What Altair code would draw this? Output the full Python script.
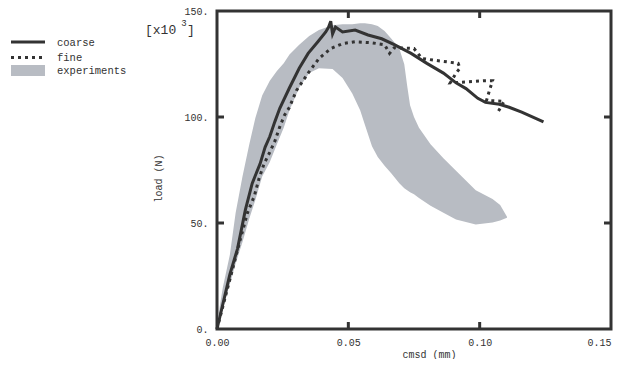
import altair as alt
import pandas as pd

# ---------------- data (x: cmsd in mm, y: load in 10^3 N) ----------------
coarse_x = [0, 0.0049, 0.0078, 0.0108, 0.0134, 0.0146, 0.0164, 0.0183, 0.0201, 0.0220,
            0.0239, 0.0276, 0.0313, 0.0347, 0.0384, 0.0414, 0.0425, 0.0433, 0.0440, 0.0451,
            0.0478, 0.0526, 0.0575, 0.0627, 0.0675, 0.0739, 0.0799, 0.0862, 0.0910, 0.0948,
            0.0993, 0.1022, 0.1075, 0.1112, 0.1160, 0.1243]
coarse_y = [0, 25.8, 37.8, 56.2, 68.7, 72.4, 77.9, 85.7, 90.8, 97.7,
            104.1, 113.8, 123.0, 130.0, 135.5, 140.1, 142.4, 145.2, 139.2, 142.4,
            140.1, 141.0, 138.7, 136.9, 134.1, 130.0, 125.3, 120.7, 116.1, 113.4,
            108.8, 106.9, 106.0, 104.6, 102.3, 97.7]

fine_x = [0, 0.0086, 0.0116, 0.0142, 0.0160, 0.0179, 0.0201, 0.0220, 0.0239, 0.0257,
          0.0276, 0.0302, 0.0347, 0.0388, 0.0433, 0.0478, 0.0526, 0.0590, 0.0638, 0.0657,
          0.0675, 0.0750, 0.0780, 0.0832, 0.0888, 0.0918, 0.0925, 0.0910, 0.0888, 0.0955,
          0.1019, 0.1049, 0.1037, 0.1026, 0.1093, 0.1067]
fine_y = [0, 41.0, 54.8, 62.7, 71.0, 77.9, 83.4, 88.5, 95.4, 100.9,
          104.6, 112.4, 120.7, 127.6, 132.3, 134.6, 135.5, 135.0, 134.1, 130.0,
          132.7, 132.3, 127.6, 126.7, 125.8, 125.3, 123.0, 120.7, 116.1, 116.6,
          117.1, 117.1, 112.4, 107.8, 107.4, 101.8]

band_x = [0, 0.0011, 0.0022, 0.0049, 0.0071, 0.0097, 0.0123, 0.0146, 0.0172, 0.0201,
          0.0228, 0.0254, 0.0276, 0.0313, 0.0351, 0.0388, 0.0440, 0.0478, 0.0515, 0.0545,
          0.0563, 0.0590, 0.0612, 0.0638, 0.0664, 0.0694, 0.0713, 0.0724, 0.0735, 0.0750,
          0.0769, 0.0813, 0.0862, 0.0910, 0.0985, 0.1049, 0.1078, 0.1104]
band_hi = [0, 11.1, 19.4, 35.0, 54.8, 71.9, 87.1, 99.5, 110.1, 117.1,
           121.7, 125.3, 129.5, 134.1, 138.2, 141.0, 143.3, 143.8, 143.8, 144.2,
           144.2, 143.8, 142.9, 140.6, 136.9, 132.3, 124.9, 114.7, 105.5, 100.0,
           94.9, 87.1, 80.6, 74.7, 65.4, 61.3, 58.5, 53.0]
band_lo = [0, 4.1, 9.7, 21.2, 30.9, 41.0, 52.1, 60.8, 71.9, 78.8,
           87.1, 94.9, 103.2, 113.8, 120.7, 123.0, 122.6, 118.4, 111.1, 103.2,
           96.3, 86.2, 81.1, 77.0, 73.3, 68.7, 66.4, 65.4, 64.5, 63.6,
           61.8, 58.1, 54.8, 51.6, 49.3, 50.2, 51.2, 52.5]

x_ticks = [0, 0.05, 0.10, 0.15]
y_ticks = [0, 50, 100, 150]
inner_x_ticks = [0.05, 0.10]
inner_y_ticks = [50, 100]
legend_labels = ["coarse", "fine", "experiments"]

# ---------------- style ----------------
W, H = 394, 318
PADL = 209
FONT = "Liberation Mono"
INK = "#333333"
BAND = "#b8bcc3"

xs = alt.Scale(domain=[0, 0.15], nice=False, zero=False)
ys = alt.Scale(domain=[0, 150], nice=False, zero=False)

band_df = pd.DataFrame({"x": band_x, "lo": band_lo, "hi": band_hi})
coarse_df = pd.DataFrame({"x": coarse_x, "y": coarse_y, "i": list(range(len(coarse_x)))})
fine_df = pd.DataFrame({"x": fine_x, "y": fine_y, "i": list(range(len(fine_x)))})

x_axis = alt.Axis(
    values=x_ticks, format=".2f", ticks=False, domain=False, grid=False,
    labelFont=FONT, labelFontSize=10, labelColor=INK, labelPadding=8,
    labelFlush=False,
    labelAlign={"condition": {"test": "datum.value > 0.149", "value": "right"}, "value": "center"},
    title="cmsd (mm)", titleFont=FONT, titleFontSize=10, titleFontWeight="normal",
    titleColor=INK, titleX=212, titleY=25, titleAlign="center", titleBaseline="middle",
)
y_axis = alt.Axis(
    values=y_ticks, labelExpr="datum.value + '.'", ticks=False, domain=False, grid=False,
    labelFont=FONT, labelFontSize=10, labelColor=INK, labelPadding=9,
    title="load (N)", titleFont=FONT, titleFontSize=10, titleFontWeight="normal",
    titleColor=INK, titleX=-59, titleY=167, titleAlign="center", titleBaseline="middle",
)

band = alt.Chart(band_df).mark_area(color=BAND, opacity=1).encode(
    x=alt.X("x:Q", scale=xs, axis=x_axis),
    y=alt.Y("hi:Q", scale=ys, axis=y_axis),
    y2="lo:Q",
)

coarse = alt.Chart(coarse_df).mark_line(color=INK, strokeWidth=3).encode(
    x=alt.X("x:Q", scale=xs), y=alt.Y("y:Q", scale=ys), order="i:Q"
)
fine = alt.Chart(fine_df).mark_line(color=INK, strokeWidth=3, strokeDash=[3, 4], strokeCap="butt").encode(
    x=alt.X("x:Q", scale=xs), y=alt.Y("y:Q", scale=ys), order="i:Q"
)

# inward tick marks on all four sides
xt_df = pd.DataFrame({"v": inner_x_ticks})
yt_df = pd.DataFrame({"v": inner_y_ticks})
tick_style = dict(color=INK, strokeWidth=3)
tb = alt.Chart(xt_df).mark_rule(**tick_style).encode(x=alt.X("v:Q", scale=xs), y=alt.value(H), y2=alt.value(H - 7))
tt = alt.Chart(xt_df).mark_rule(**tick_style).encode(x=alt.X("v:Q", scale=xs), y=alt.value(0), y2=alt.value(7))
tl = alt.Chart(yt_df).mark_rule(**tick_style).encode(y=alt.Y("v:Q", scale=ys), x=alt.value(0), x2=alt.value(7))
tr = alt.Chart(yt_df).mark_rule(**tick_style).encode(y=alt.Y("v:Q", scale=ys), x=alt.value(W), x2=alt.value(W - 7))

# legend (manual, left of the plot); page x = 8 + PADL + chart x
one = pd.DataFrame({"k": [0]})
OX = 8 + PADL
lg_coarse = alt.Chart(one).mark_rule(color=INK, strokeWidth=3).encode(
    x=alt.value(11 - OX), x2=alt.value(45 - OX), y=alt.value(31))
lg_fine = alt.Chart(one).mark_rule(color=INK, strokeWidth=3, strokeDash=[3, 4], strokeCap="butt").encode(
    x=alt.value(11 - OX), x2=alt.value(45 - OX), y=alt.value(46.5))
lg_band = alt.Chart(one).mark_rect(color=BAND).encode(
    x=alt.value(11 - OX), x2=alt.value(45 - OX), y=alt.value(54), y2=alt.value(65))
lg_text = alt.Chart(pd.DataFrame({"t": legend_labels, "yy": [32, 47, 60]})).mark_text(
    font=FONT, fontSize=10.5, color=INK, align="left", baseline="middle"
).encode(text="t:N", x=alt.value(57 - OX), y=alt.Y("yy:Q", scale=None))

# scale factor annotation
sc1 = alt.Chart(one).mark_text(font=FONT, fontSize=13, color=INK, align="left", baseline="middle").encode(
    x=alt.value(145 - OX), y=alt.value(19), text=alt.value("[x10"))
sc2 = alt.Chart(one).mark_text(font=FONT, fontSize=9, color=INK, align="center", baseline="middle").encode(
    x=alt.value(184 - OX), y=alt.value(12), text=alt.value("3"))
sc3 = alt.Chart(one).mark_text(font=FONT, fontSize=13, color=INK, align="center", baseline="middle").encode(
    x=alt.value(191 - OX), y=alt.value(19), text=alt.value("]"))

chart = alt.layer(
    band, coarse, fine, tb, tt, tl, tr,
    lg_coarse, lg_fine, lg_band, lg_text, sc1, sc2, sc3,
).properties(
    width=W, height=H,
    autosize=alt.AutoSizeParams(type="none"),
    padding={"left": PADL, "top": 3, "right": 2, "bottom": 30},
    background="white",
).configure_view(stroke=INK, strokeWidth=3)

chart.save("out.html", embed_options={"renderer": "svg", "actions": False})
